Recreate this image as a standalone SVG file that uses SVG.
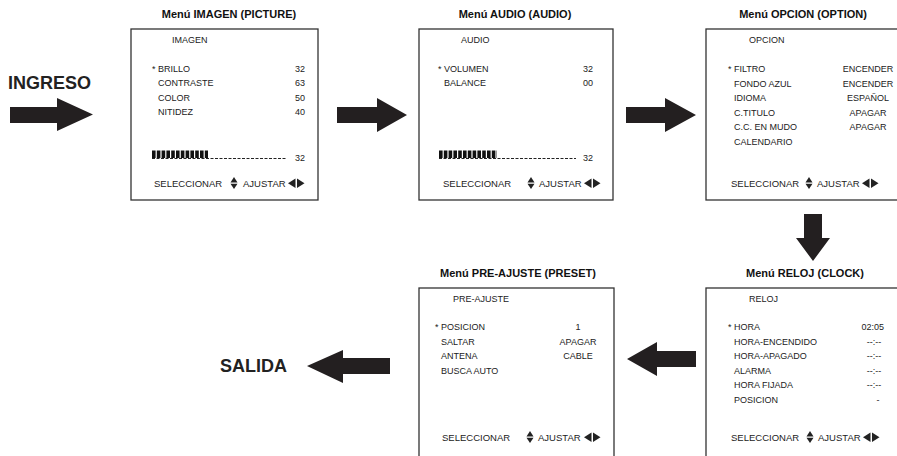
<svg xmlns="http://www.w3.org/2000/svg" width="897" height="456" viewBox="0 0 897 456">
<style>
.box{fill:#fff;stroke:#333;stroke-width:1.3}
.t{font-family:"Liberation Sans",Arial,sans-serif;font-size:9px;fill:#222}
.sel{font-family:"Liberation Sans",Arial,sans-serif;font-size:9.5px;fill:#222}
.r{text-anchor:end}
.m{text-anchor:middle}
.title{font-family:"Liberation Sans",Arial,sans-serif;font-size:11px;font-weight:bold;fill:#111;text-anchor:middle}
.big{font-family:"Liberation Sans",Arial,sans-serif;font-size:18px;font-weight:bold;fill:#222}
.arrow{fill:#231f20}
.bar{stroke:#111;stroke-width:7.5;stroke-dasharray:3.6 1.2}
.dash{stroke:#222;stroke-width:1;stroke-dasharray:3 1.5}
.tri{fill:#222}
</style>
<defs>
<g id="ud"><polygon class="tri" points="-3.5,-4.6 3.5,-4.6 0,-10"/><polygon class="tri" points="-3.5,-3.2 3.5,-3.2 0,2"/></g>
<g id="lr"><polygon class="tri" points="0,-3.8 7.5,-8.6 7.5,1"/><polygon class="tri" points="9,-8.6 9,1 16.5,-3.8"/></g>
</defs>
<rect width="897" height="456" fill="#fff"/>

<g id="ingreso">
<text class="big" x="8" y="89">INGRESO</text>
</g>
<g id="salida">
<text class="big" x="220" y="372">SALIDA</text>
</g>

<g id="panel-imagen">
<text class="title" x="229" y="18">Menú IMAGEN (PICTURE)</text>
<rect class="box" x="131" y="29" width="187" height="171"/>
<text class="t" x="172" y="43">IMAGEN</text>
<text class="t" x="152" y="72">* BRILLO</text>
<text class="t" x="158" y="86.3">CONTRASTE</text>
<text class="t" x="158" y="100.6">COLOR</text>
<text class="t" x="158" y="114.9">NITIDEZ</text>
<text class="t r" x="305" y="72">32</text>
<text class="t r" x="305" y="86.3">63</text>
<text class="t r" x="305" y="100.6">50</text>
<text class="t r" x="305" y="114.9">40</text>
<line class="bar" x1="152" y1="154.3" x2="208" y2="154.3"/>
<line class="dash" x1="152" y1="158.5" x2="287" y2="158.5"/>
<text class="t r" x="305" y="161">32</text>
<text class="sel" x="154" y="187">SELECCIONAR</text>
<use href="#ud" x="234" y="187"/>
<text class="sel" x="243" y="187">AJUSTAR</text>
<use href="#lr" x="288" y="187"/>
</g>

<g id="panel-audio">
<text class="title" x="515" y="18">Menú AUDIO (AUDIO)</text>
<rect class="box" x="419" y="29" width="194" height="171"/>
<text class="t" x="461" y="43">AUDIO</text>
<text class="t" x="438" y="72">* VOLUMEN</text>
<text class="t" x="444" y="86.3">BALANCE</text>
<text class="t r" x="593" y="72">32</text>
<text class="t r" x="593" y="86.3">00</text>
<line class="bar" x1="439" y1="154.3" x2="497" y2="154.3"/>
<line class="dash" x1="439" y1="158.5" x2="576" y2="158.5"/>
<text class="t r" x="593" y="161">32</text>
<text class="sel" x="443" y="187">SELECCIONAR</text>
<use href="#ud" x="531" y="187"/>
<text class="sel" x="539" y="187">AJUSTAR</text>
<use href="#lr" x="584" y="187"/>
</g>

<g id="panel-opcion">
<text class="title" x="803" y="18">Menú OPCION (OPTION)</text>
<rect class="box" x="706" y="29" width="200" height="171"/>
<text class="t" x="749" y="43">OPCION</text>
<text class="t" x="728" y="72">* FILTRO</text>
<text class="t" x="734" y="86.5">FONDO AZUL</text>
<text class="t" x="734" y="101">IDIOMA</text>
<text class="t" x="734" y="115.5">C.TITULO</text>
<text class="t" x="734" y="130">C.C. EN MUDO</text>
<text class="t" x="734" y="144.5">CALENDARIO</text>
<text class="t m" x="868" y="72">ENCENDER</text>
<text class="t m" x="868" y="86.5">ENCENDER</text>
<text class="t m" x="868" y="101">ESPAÑOL</text>
<text class="t m" x="868" y="115.5">APAGAR</text>
<text class="t m" x="868" y="130">APAGAR</text>
<text class="sel" x="731" y="187">SELECCIONAR</text>
<use href="#ud" x="809" y="187"/>
<text class="sel" x="817" y="187">AJUSTAR</text>
<use href="#lr" x="862" y="187"/>
</g>

<g id="panel-reloj">
<text class="title" x="805" y="277">Menú RELOJ (CLOCK)</text>
<rect class="box" x="706" y="288" width="200" height="180"/>
<text class="t" x="749" y="302">RELOJ</text>
<text class="t" x="728" y="330">* HORA</text>
<text class="t" x="734" y="344.5">HORA-ENCENDIDO</text>
<text class="t" x="734" y="359">HORA-APAGADO</text>
<text class="t" x="734" y="373.5">ALARMA</text>
<text class="t" x="734" y="388">HORA FIJADA</text>
<text class="t" x="734" y="402.5">POSICION</text>
<text class="t r" x="884" y="330">02:05</text>
<text class="t m" x="874" y="344.5">--:--</text>
<text class="t m" x="874" y="359">--:--</text>
<text class="t m" x="874" y="373.5">--:--</text>
<text class="t m" x="874" y="388">--:--</text>
<text class="t m" x="878" y="402.5">-</text>
<text class="sel" x="731" y="441">SELECCIONAR</text>
<use href="#ud" x="810" y="441"/>
<text class="sel" x="818" y="441">AJUSTAR</text>
<use href="#lr" x="863" y="441"/>
</g>

<g id="panel-preajuste">
<text class="title" x="518" y="277">Menú PRE-AJUSTE (PRESET)</text>
<rect class="box" x="419" y="288" width="195" height="180"/>
<text class="t" x="453" y="302">PRE-AJUSTE</text>
<text class="t" x="435" y="330">* POSICION</text>
<text class="t" x="441" y="344.5">SALTAR</text>
<text class="t" x="441" y="359">ANTENA</text>
<text class="t" x="441" y="373.5">BUSCA AUTO</text>
<text class="t m" x="578" y="330">1</text>
<text class="t m" x="578" y="344.5">APAGAR</text>
<text class="t m" x="578" y="359">CABLE</text>
<text class="sel" x="442" y="441">SELECCIONAR</text>
<use href="#ud" x="530" y="441"/>
<text class="sel" x="538" y="441">AJUSTAR</text>
<use href="#lr" x="584" y="441"/>
</g>

<g id="connectors">
<polygon class="arrow" points="10,107 57,107 57,98 93,114.5 57,131 57,123 10,123"/>
<polygon class="arrow" points="337,107 377,107 377,98 407,115 377,132 377,123 337,123"/>
<polygon class="arrow" points="626,107 665,107 665,98 696,115 665,132 665,123 626,123"/>
<polygon class="arrow" points="804,214 822,214 822,238 830,238 813,261 796,238 804,238"/>
<polygon class="arrow" points="696,351 657,351 657,342 627,359 657,376 657,367 696,367"/>
<polygon class="arrow" points="390,358 343,358 343,350 307,366 343,383 343,374 390,374"/>
</g>
</svg>
